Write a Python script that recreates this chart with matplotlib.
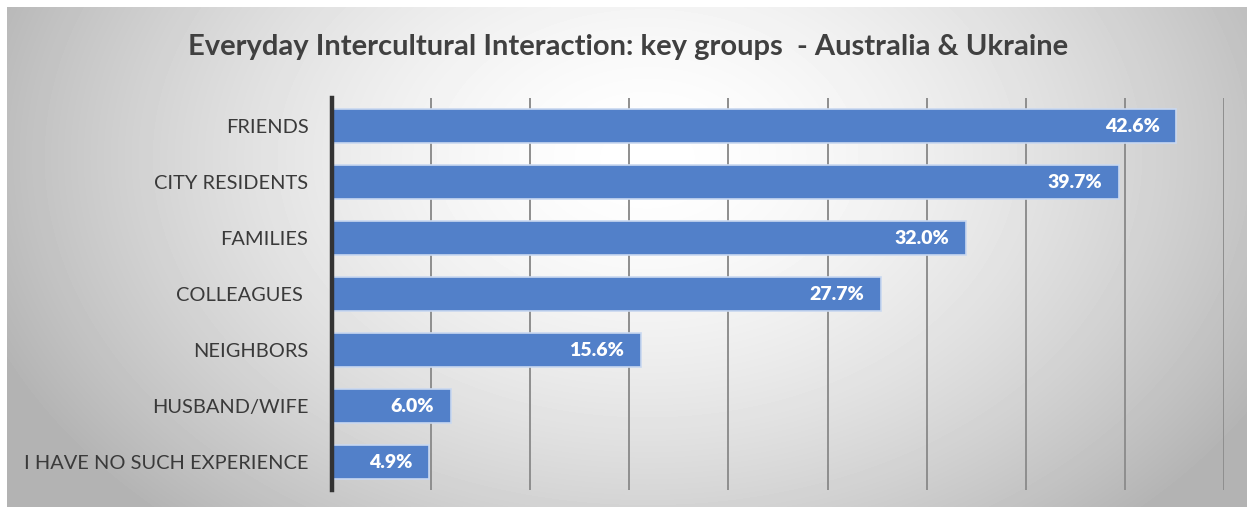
import numpy as np
import matplotlib.pyplot as plt

categories = ["FRIENDS", "CITY RESIDENTS", "FAMILIES", "COLLEAGUES ",
              "NEIGHBORS", "HUSBAND/WIFE", "I HAVE NO SUCH EXPERIENCE"]
values = [42.6, 39.7, 32.0, 27.7, 15.6, 6.0, 4.9]
labels = ["42.6%", "39.7%", "32.0%", "27.7%", "15.6%", "6.0%", "4.9%"]

W, H = 1253, 514
fig = plt.figure(figsize=(W / 100, H / 100), dpi=100)
fig.patch.set_facecolor("white")

# radial grey background behind the chart
bg = fig.add_axes([7 / W, 7 / H, 1240 / W, 500 / H])
yy, xx = np.mgrid[0:500, 0:1240]
r = np.sqrt(((xx - 640) / 740) ** 2 + ((yy - 150) / 520) ** 2)
shade = np.clip(1.0 - 0.32 * r ** 1.6, 0.70, 1.0)
bg.imshow(shade, cmap="gray", vmin=0, vmax=1, aspect="auto", interpolation="bilinear")
bg.axis("off")

ax = fig.add_axes([332 / W, 24 / H, 892 / W, 392 / H])
ax.patch.set_alpha(0)

y = np.arange(len(categories))
ax.barh(y, values, height=0.6, color="#5280C9", edgecolor="#C9D8F0", linewidth=1.2, zorder=3)

for yi, v, lab in zip(y, values, labels):
    ax.text(v - 0.85, yi, lab, ha="right", va="center", color="white",
            fontsize=14, fontweight="heavy", family="Lato", zorder=4)

ax.set_xlim(0, 45)
ax.set_ylim(len(categories) - 0.5, -0.5)
ax.set_xticks(np.arange(5, 46, 5))
ax.xaxis.grid(True, color="#8E8E8E", linewidth=1.4, zorder=1)
ax.tick_params(axis="x", length=0, labelbottom=False)
ax.set_yticks(y)
ax.set_yticklabels(categories, family="Lato", fontsize=14.4, color="#3A3A3A")
ax.tick_params(axis="y", length=0, pad=17)
for side in ["top", "right", "bottom"]:
    ax.spines[side].set_visible(False)
ax.spines["left"].set_color("#333333")
ax.spines["left"].set_linewidth(3.2)
ax.spines["left"].set_zorder(5)

fig.text(628 / W, 1 - 47 / H, "Everyday Intercultural Interaction: key groups  - Australia & Ukraine",
         ha="center", va="center", fontsize=21, fontweight="bold", color="#404040", family="Lato")

fig.savefig("out.png", dpi=100)
